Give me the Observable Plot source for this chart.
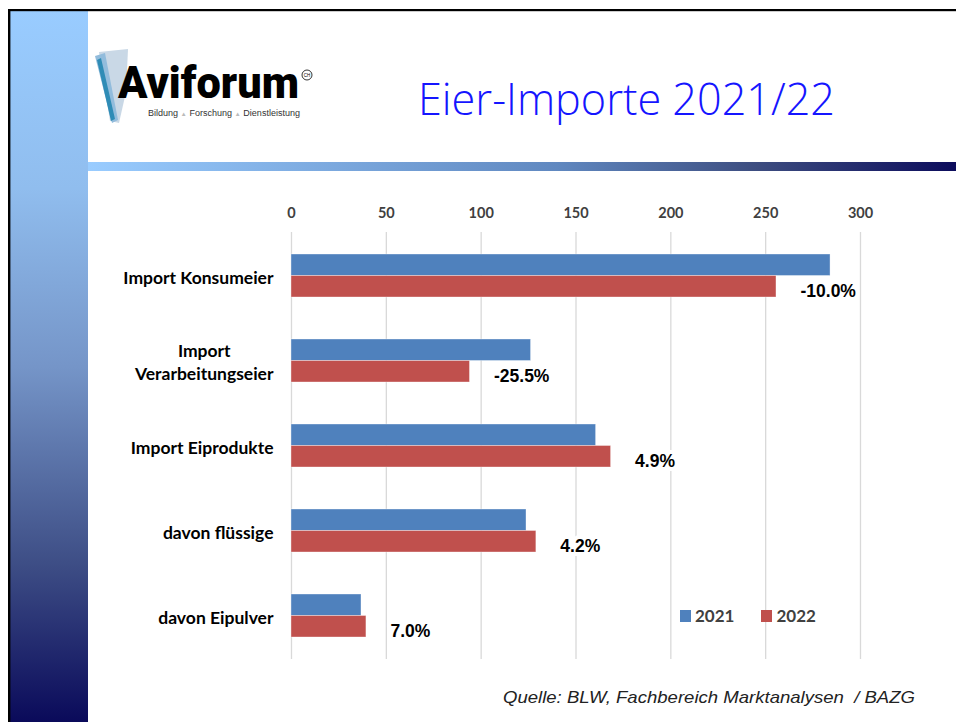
<!DOCTYPE html>
<html>
<head>
<meta charset="utf-8">
<script src="https://cdn.jsdelivr.net/npm/d3@7"></script>
<script src="https://cdn.jsdelivr.net/npm/@observablehq/plot@0.6"></script>
<style>
  html, body { margin: 0; padding: 0; background: #fff; }
  #slide { position: relative; width: 956px; height: 722px; overflow: hidden; background: #fff; }
  #deco { position: absolute; left: 0; top: 0; }
  #chart { position: absolute; left: 0; top: 180px; }
  #legend { position: absolute; left: 680px; top: 599px; }
  #legend, #legend * { font-family: Lato, 'Open Sans', sans-serif !important; font-weight: 700 !important; font-size: 17px !important; color: #404040 !important; }
  #legend span[class$="-swatch"] { margin-right: 27px !important; }
  #legend span[class$="-swatch"] > svg { margin-right: 4px !important; }
</style>
</head>
<body>
<div id="slide">
  <svg id="deco" width="956" height="722" viewBox="0 0 956 722">
    <defs>
      <linearGradient id="gv" x1="0" y1="0" x2="0" y2="1">
        <stop offset="0" stop-color="#99ccff"/>
        <stop offset="0.25" stop-color="#90bdee"/>
        <stop offset="0.5" stop-color="#7595c8"/>
        <stop offset="0.78" stop-color="#3d4d85"/>
        <stop offset="1" stop-color="#0a0a5a"/>
      </linearGradient>
      <linearGradient id="gh" x1="0" y1="0" x2="1" y2="0">
        <stop offset="0" stop-color="#99ccff"/>
        <stop offset="0.54" stop-color="#6088c0"/>
        <stop offset="0.77" stop-color="#3d4d80"/>
        <stop offset="1" stop-color="#0c0c5c"/>
      </linearGradient>
    </defs>
    <rect x="0" y="0" width="956" height="722" fill="#fff"/>
    <rect x="10" y="11" width="78" height="711" fill="url(#gv)"/>
    <rect x="88" y="162" width="868" height="9" fill="url(#gh)"/>
    <rect x="8" y="9" width="948" height="2.2" fill="#000"/>
    <rect x="8" y="9" width="2.4" height="713" fill="#000"/>
    <!-- logo -->
    <g>
      <polygon points="99,52 128,49 126,92 119,123 110,121" fill="#c9d8e6"/>
      <polygon points="95,56 105,53 118,120 112,123" fill="#92bcdc"/>
      <polygon points="97,60 101,58 115,119 111,121" fill="#2f8cb6"/>
      <text x="118" y="98" font-family="Roboto, 'Liberation Sans', sans-serif" font-weight="900" font-size="44" fill="#000" textLength="181" lengthAdjust="spacingAndGlyphs">Aviforum</text>
      <circle cx="307" cy="75" r="5" fill="none" stroke="#000" stroke-width="0.8"/>
      <text x="307" y="76.6" text-anchor="middle" font-family="'Liberation Sans', sans-serif" font-size="4.5" fill="#000">CH</text>
      <text x="148" y="116" font-family="'Liberation Sans', sans-serif" font-size="8.5" fill="#333" textLength="152" lengthAdjust="spacingAndGlyphs" style="white-space:pre">Bildung <tspan fill="#bbb" font-size="6">▲</tspan> Forschung <tspan fill="#bbb" font-size="6">▲</tspan> Dienstleistung</text>
    </g>
    <text x="418" y="115" font-family="'Open Sans', sans-serif" font-weight="300" font-size="44" fill="#1515ff" textLength="417" lengthAdjust="spacingAndGlyphs">Eier-Importe 2021/22</text>
    <text x="915" y="703" text-anchor="end" font-family="'Liberation Sans', Arial, sans-serif" font-style="italic" font-size="16.5" fill="#222" textLength="412" lengthAdjust="spacingAndGlyphs" style="white-space:pre">Quelle: BLW, Fachbereich Marktanalysen  / BAZG</text>
  </svg>
  <div id="chart"></div>
  <div id="legend"></div>
</div>
<script>
// ---- data ----
const categories = ["Import Konsumeier", "Import\nVerarbeitungseier", "Import Eiprodukte", "davon flüssige", "davon Eipulver"];
const values2021 = [284.2, 126.3, 160.6, 123.9, 36.9];
const values2022 = [255.7, 94.1, 168.5, 129.1, 39.5];
const changeLabels = ["-10.0%", "-25.5%", "4.9%", "4.2%", "7.0%"];
const years = ["2021", "2022"];
const yearColors = ["#4f81bd", "#c0504d"];
const xTicks = [0, 50, 100, 150, 200, 250, 300];

const rows2021 = categories.map((c, i) => ({category: c, year: years[0], value: values2021[i]}));
const rows2022 = categories.map((c, i) => ({category: c, year: years[1], value: values2022[i]}));
const changeRows = categories.map((c, i) => ({category: c, value: values2022[i], label: changeLabels[i]}));

const half = 21.5;

const chart = Plot.plot({
  width: 956,
  height: 490,
  marginTop: 52,
  marginBottom: 11,
  marginLeft: 291,
  marginRight: 96,
  style: {background: "transparent", fontFamily: "Lato, 'Open Sans', sans-serif", overflow: "visible"},
  x: {domain: [0, 300], ticks: xTicks, axis: null},
  y: {domain: categories, paddingInner: 0.495, paddingOuter: 0.2475, axis: null},
  color: {domain: years, range: yearColors},
  marks: [
    Plot.gridX(xTicks, {stroke: "#d9d9d9", strokeOpacity: 1, strokeWidth: 1.3}),
    Plot.axisX(xTicks, {anchor: "top", tickSize: 0, tickPadding: 15, fontSize: 14.5, fontWeight: "bold", fill: "#404040", label: null}),
    Plot.text(categories, {y: d => d, text: d => d, frameAnchor: "left", dx: -18, textAnchor: "end", fontSize: 17.5, fontWeight: "bold", fill: "#000", lineHeight: 1.35}),
    Plot.text(changeRows, {x: "value", y: "category", text: "label", textAnchor: "start", dx: 24, dy: 15, fontSize: 17.5, fontWeight: "bold", fontFamily: "'Liberation Sans', Arial, sans-serif", fill: "#000", stroke: "white", strokeWidth: 8}),
    Plot.barX(rows2021, {x: "value", y: "category", fill: "year", insetBottom: half, stroke: "#ffffff", strokeOpacity: 0.45, strokeWidth: 0.8}),
    Plot.barX(rows2022, {x: "value", y: "category", fill: "year", insetTop: half, stroke: "#ffffff", strokeOpacity: 0.45, strokeWidth: 0.8})
  ]
});
document.getElementById("chart").appendChild(chart);

// centre the lines of wrapped category labels on each other (block stays right-aligned)
chart.querySelectorAll("text").forEach(t => {
  const spans = t.querySelectorAll("tspan");
  if (spans.length > 1) {
    const w = Math.max(...Array.from(spans, s => s.getComputedTextLength()));
    t.setAttribute("text-anchor", "middle");
    spans.forEach(s => s.setAttribute("x", -w / 2));
  }
});

const legend = Plot.legend({
  color: {domain: years, range: yearColors},
  legend: "swatches",
  swatchWidth: 11,
  swatchHeight: 12,
  className: "lg",
  style: {fontFamily: "Lato, 'Open Sans', sans-serif", fontSize: "17px", fontWeight: "bold", color: "#404040"}
});
document.getElementById("legend").appendChild(legend);
</script>
</body>
</html>
